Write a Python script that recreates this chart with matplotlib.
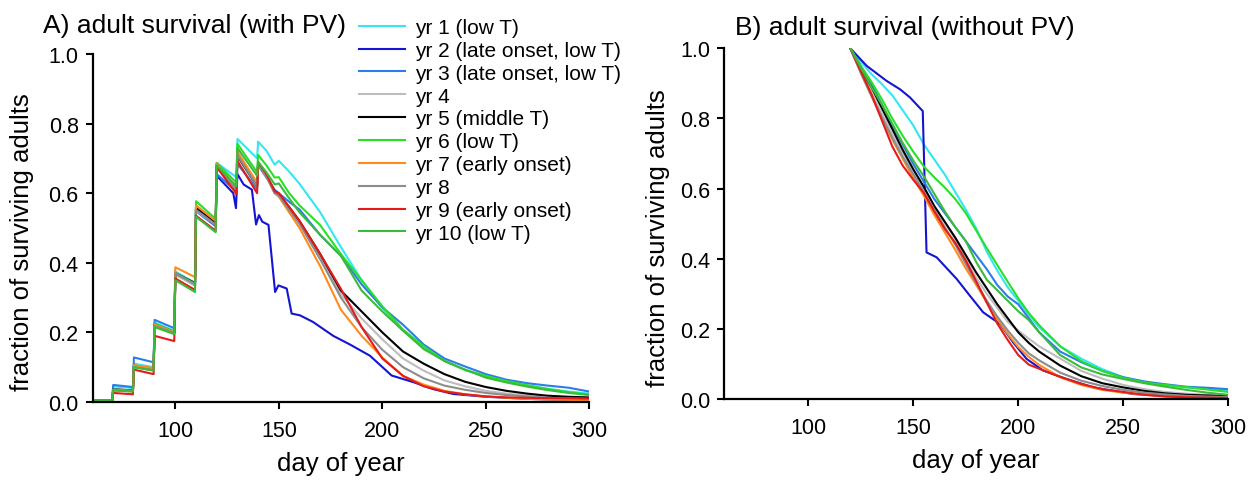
import matplotlib
matplotlib.use('Agg')
import matplotlib.pyplot as plt

plt.rcParams['font.family'] = ['Liberation Sans', 'DejaVu Sans']

labels = ['yr 1 (low T)', 'yr 2 (late onset, low T)', 'yr 3 (late onset, low T)',
          'yr 4', 'yr 5 (middle T)', 'yr 6 (low T)', 'yr 7 (early onset)',
          'yr 8', 'yr 9 (early onset)', 'yr 10 (low T)']
colors = ['#33e6f2', '#1414d2', '#2b7de9', '#bdbdbd', '#000000',
          '#28e028', '#ff8a1e', '#8c8c8c', '#e41b1b', '#3cba3c']

# A) with PV: adults arrive in pulses every 10 days, then die off
days_a = [60, 69.5, 70, 79.5, 80, 89.5, 90, 99.5, 100, 109.5, 110, 119.5, 120, 129.5, 130, 139.5,
          140, 144, 148, 150, 155, 160, 170, 180, 190, 200, 210, 220, 230, 240, 250, 260, 270, 280, 290, 300]
a1 = [0.005, 0.005, 0.045, 0.040, 0.110, 0.100, 0.228, 0.205, 0.375, 0.342, 0.565, 0.520, 0.687, 0.646, 0.756, 0.700,
      0.748, 0.722, 0.682, 0.693, 0.662, 0.627, 0.545, 0.445, 0.350, 0.270, 0.205, 0.158, 0.118, 0.092, 0.074, 0.060, 0.048, 0.038, 0.030, 0.024]
days_a2 = [60, 69.5, 70, 79.5, 80, 89.5, 90, 99.5, 100, 109.5, 110, 119.5, 120, 128, 129.3, 130, 133, 137, 139, 140.4,
           142, 145, 148.2, 149.8, 153.8, 156.2, 160.2, 166.5, 176.3, 184.4, 194, 204.5, 215, 224.6, 234.3, 250, 270, 300]
a2 = [0.005, 0.005, 0.035, 0.032, 0.102, 0.094, 0.222, 0.200, 0.370, 0.335, 0.555, 0.510, 0.650, 0.600, 0.557, 0.655, 0.625, 0.610, 0.510, 0.537,
      0.518, 0.509, 0.316, 0.335, 0.326, 0.254, 0.249, 0.230, 0.190, 0.165, 0.133, 0.076, 0.057, 0.037, 0.023, 0.015, 0.009, 0.004]
a3 = [0.005, 0.005, 0.049, 0.043, 0.128, 0.114, 0.236, 0.212, 0.368, 0.335, 0.548, 0.505, 0.655, 0.605, 0.684, 0.612,
      0.680, 0.645, 0.610, 0.600, 0.575, 0.553, 0.480, 0.420, 0.338, 0.272, 0.222, 0.165, 0.125, 0.102, 0.080, 0.064, 0.054, 0.047, 0.041, 0.030]
a4 = [0.005, 0.005, 0.034, 0.031, 0.100, 0.092, 0.220, 0.200, 0.365, 0.335, 0.550, 0.510, 0.680, 0.610, 0.705, 0.618,
      0.683, 0.648, 0.600, 0.595, 0.555, 0.515, 0.415, 0.310, 0.240, 0.180, 0.125, 0.090, 0.062, 0.045, 0.032, 0.024, 0.018, 0.013, 0.010, 0.008]
a5 = [0.005, 0.005, 0.037, 0.033, 0.104, 0.095, 0.224, 0.201, 0.370, 0.342, 0.558, 0.515, 0.683, 0.612, 0.708, 0.620,
      0.685, 0.650, 0.605, 0.598, 0.560, 0.520, 0.425, 0.320, 0.260, 0.200, 0.145, 0.110, 0.080, 0.058, 0.043, 0.032, 0.024, 0.018, 0.015, 0.013]
a6 = [0.005, 0.005, 0.036, 0.032, 0.105, 0.096, 0.225, 0.202, 0.370, 0.340, 0.577, 0.526, 0.687, 0.630, 0.742, 0.660,
      0.710, 0.680, 0.645, 0.646, 0.600, 0.565, 0.508, 0.425, 0.350, 0.275, 0.208, 0.160, 0.118, 0.092, 0.075, 0.060, 0.048, 0.037, 0.028, 0.021]
a7 = [0.005, 0.005, 0.034, 0.030, 0.106, 0.097, 0.222, 0.200, 0.387, 0.359, 0.565, 0.520, 0.685, 0.615, 0.720, 0.630,
      0.685, 0.650, 0.600, 0.590, 0.545, 0.500, 0.390, 0.265, 0.190, 0.128, 0.075, 0.050, 0.032, 0.022, 0.016, 0.012, 0.009, 0.007, 0.006, 0.005]
a8 = [0.005, 0.005, 0.036, 0.032, 0.100, 0.091, 0.218, 0.198, 0.370, 0.338, 0.552, 0.510, 0.680, 0.608, 0.710, 0.620,
      0.683, 0.648, 0.600, 0.593, 0.552, 0.512, 0.410, 0.300, 0.215, 0.150, 0.100, 0.068, 0.047, 0.035, 0.026, 0.020, 0.016, 0.012, 0.010, 0.008]
a9 = [0.005, 0.005, 0.026, 0.022, 0.093, 0.080, 0.190, 0.175, 0.355, 0.322, 0.535, 0.492, 0.675, 0.598, 0.693, 0.600,
      0.690, 0.655, 0.605, 0.600, 0.560, 0.520, 0.425, 0.325, 0.215, 0.125, 0.075, 0.045, 0.030, 0.022, 0.016, 0.013, 0.012, 0.011, 0.011, 0.010]
a10 = [0.005, 0.005, 0.033, 0.030, 0.100, 0.090, 0.215, 0.195, 0.350, 0.316, 0.532, 0.488, 0.680, 0.620, 0.730, 0.650,
       0.690, 0.660, 0.625, 0.628, 0.585, 0.545, 0.480, 0.420, 0.320, 0.260, 0.205, 0.152, 0.118, 0.093, 0.070, 0.056, 0.044, 0.034, 0.026, 0.020]

# B) without PV: everyone present on day 120
days_b = [120, 125, 130, 135, 140, 145, 150, 155, 160, 165, 170, 175, 180, 185, 190, 195, 200, 205, 210,
          220, 230, 240, 250, 260, 270, 280, 290, 300]
b1 = [1.0, 0.962, 0.927, 0.898, 0.866, 0.823, 0.780, 0.726, 0.683, 0.640, 0.590, 0.540, 0.486, 0.420, 0.366, 0.318, 0.280, 0.240, 0.204,
      0.150, 0.115, 0.085, 0.062, 0.047, 0.039, 0.033, 0.029, 0.025]
days_b2 = [120, 127.8, 137.3, 143.7, 148.4, 154.5, 156.3, 161.1, 170.7, 177, 183.3, 191.3, 197.6, 204, 211.9, 223, 235.7, 254.8, 275, 300]
b2 = [1.0, 0.950, 0.907, 0.883, 0.860, 0.821, 0.418, 0.404, 0.342, 0.294, 0.247, 0.214, 0.161, 0.114, 0.081, 0.057, 0.033, 0.014, 0.008, 0.005]
b3 = [1.0, 0.950, 0.900, 0.840, 0.780, 0.725, 0.670, 0.620, 0.570, 0.530, 0.490, 0.450, 0.410, 0.370, 0.325, 0.292, 0.270, 0.230, 0.190,
      0.135, 0.105, 0.080, 0.062, 0.050, 0.042, 0.035, 0.032, 0.028]
b4 = [1.0, 0.935, 0.875, 0.815, 0.755, 0.700, 0.645, 0.600, 0.550, 0.505, 0.455, 0.400, 0.345, 0.300, 0.260, 0.220, 0.195, 0.172, 0.150,
      0.115, 0.080, 0.058, 0.040, 0.028, 0.020, 0.015, 0.012, 0.010]
b5 = [1.0, 0.940, 0.890, 0.830, 0.770, 0.710, 0.655, 0.605, 0.550, 0.505, 0.460, 0.410, 0.360, 0.315, 0.270, 0.230, 0.190, 0.160, 0.135,
      0.095, 0.065, 0.045, 0.033, 0.023, 0.016, 0.012, 0.010, 0.008]
b6 = [1.0, 0.950, 0.905, 0.855, 0.800, 0.750, 0.705, 0.663, 0.632, 0.603, 0.570, 0.530, 0.480, 0.430, 0.382, 0.334, 0.287, 0.245, 0.210,
      0.150, 0.108, 0.080, 0.060, 0.047, 0.040, 0.034, 0.027, 0.020]
b7 = [1.0, 0.930, 0.865, 0.800, 0.740, 0.685, 0.630, 0.580, 0.525, 0.475, 0.425, 0.372, 0.325, 0.275, 0.228, 0.185, 0.148, 0.120, 0.097,
      0.062, 0.040, 0.026, 0.018, 0.012, 0.008, 0.006, 0.005, 0.004]
b8 = [1.0, 0.930, 0.865, 0.805, 0.745, 0.690, 0.640, 0.590, 0.540, 0.490, 0.440, 0.385, 0.330, 0.280, 0.235, 0.195, 0.160, 0.130, 0.110,
      0.075, 0.052, 0.037, 0.026, 0.018, 0.013, 0.009, 0.007, 0.006]
b9 = [1.0, 0.935, 0.870, 0.795, 0.720, 0.665, 0.625, 0.588, 0.535, 0.485, 0.445, 0.395, 0.335, 0.275, 0.215, 0.168, 0.125, 0.098, 0.086,
      0.063, 0.043, 0.028, 0.020, 0.012, 0.007, 0.005, 0.004, 0.003]
b10 = [1.0, 0.945, 0.890, 0.840, 0.785, 0.730, 0.680, 0.635, 0.585, 0.535, 0.490, 0.450, 0.390, 0.340, 0.310, 0.280, 0.250, 0.225, 0.190,
       0.125, 0.090, 0.070, 0.057, 0.045, 0.035, 0.026, 0.018, 0.012]

series_a = [(days_a, a1), (days_a2, a2), (days_a, a3), (days_a, a4), (days_a, a5),
            (days_a, a6), (days_a, a7), (days_a, a8), (days_a, a9), (days_a, a10)]
series_b = [(days_b, b1), (days_b2, b2), (days_b, b3), (days_b, b4), (days_b, b5),
            (days_b, b6), (days_b, b7), (days_b, b8), (days_b, b9), (days_b, b10)]

fig = plt.figure(figsize=(12.52, 4.81), dpi=100)
ax_a = fig.add_axes([0.0739, 0.1622, 0.3968, 0.7235])
ax_b = fig.add_axes([0.5785, 0.1684, 0.4026, 0.7291])

for ax, series in ((ax_a, series_a), (ax_b, series_b)):
    for (x, y), lab, col in zip(series, labels, colors):
        ax.plot(x, y, color=col, lw=1.5, label=lab)
    ax.set_xlim(60, 300)
    ax.set_ylim(0, 1)
    ax.set_xticks([100, 150, 200, 250, 300])
    ax.set_yticks([0, 0.2, 0.4, 0.6, 0.8, 1.0])
    ax.set_yticklabels(['0.0', '0.2', '0.4', '0.6', '0.8', '1.0'])
    ax.spines[['top', 'right']].set_visible(False)
    ax.spines[['left', 'bottom']].set_linewidth(1.6)
    ax.tick_params(direction='out', length=5, width=1.5, labelsize=15.5)
    ax.tick_params(axis='x', pad=8)
    ax.tick_params(axis='y', pad=5)
    ax.set_xlabel('day of year', fontsize=18.5, labelpad=7)
    ax.set_ylabel('fraction of surviving adults', fontsize=18.5)

ax_a.yaxis.set_label_coords(-0.118, 0.462)
ax_b.yaxis.set_label_coords(-0.108, 0.462)

fig.text(43 / 1252, 1 - 33 / 481, 'A) adult survival (with PV)', fontsize=19, va='baseline')
fig.text(735 / 1252, 1 - 35 / 481, 'B) adult survival (without PV)', fontsize=19, va='baseline')

ax_a.legend(loc='upper left', bbox_to_anchor=(359 / 1252, 1 - 19 / 481),
            bbox_transform=fig.transFigure, frameon=False, fontsize=15,
            handlelength=2.2, handletextpad=0.5, labelspacing=0.185,
            borderpad=0, borderaxespad=0)

fig.savefig('out.png', dpi=100)
